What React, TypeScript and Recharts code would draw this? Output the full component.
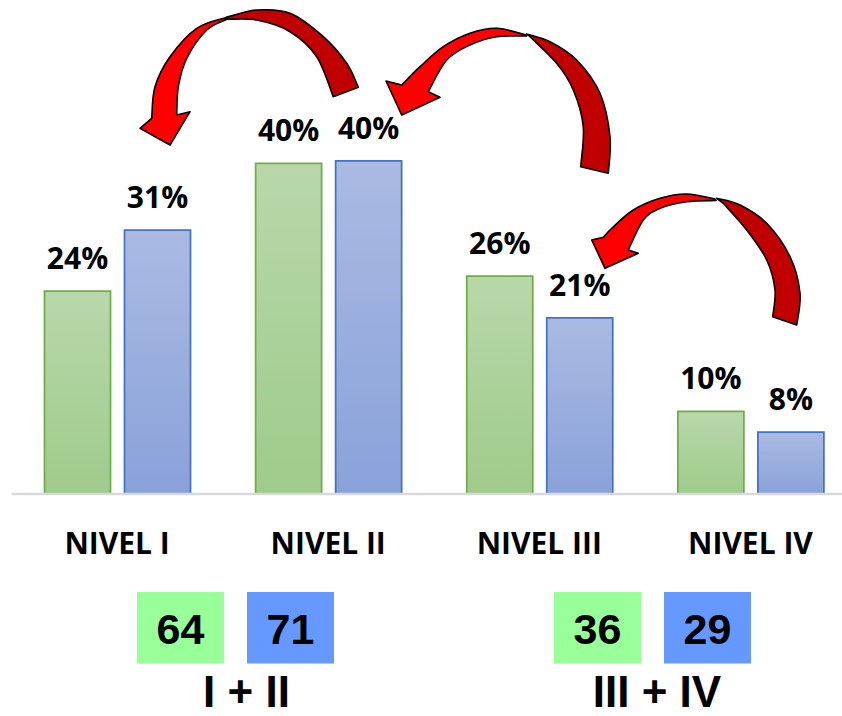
import React from 'react';
import { BarChart, Bar, XAxis, YAxis, LabelList } from 'recharts';

const categories = ['NIVEL I', 'NIVEL II', 'NIVEL III', 'NIVEL IV'];
// bar heights (percent)
const greenValues = [24.3, 39.6, 26.1, 9.9];
const blueValues = [31.6, 39.9, 21.1, 7.4];
// printed labels
const greenLabels = [24, 40, 26, 10];
const blueLabels = [31, 40, 21, 8];
const groupNames = ['I + II', 'III + IV'];

const data = categories.map((name, i) => ({
  name,
  green: greenValues[i],
  blue: blueValues[i],
  greenLabel: greenLabels[i],
  blueLabel: blueLabels[i],
}));

const calibri = '"Open Sans", Lato, sans-serif';
const arial = '"Liberation Sans", Arial, sans-serif';

type Pt = [number, number];

// catmull-rom -> cubic segments, assumes current point is pts[0]
function curve(pts: Pt[]) {
  let d = '';
  for (let i = 0; i < pts.length - 1; i++) {
    const p0 = pts[i - 1] || pts[i];
    const p1 = pts[i];
    const p2 = pts[i + 1];
    const p3 = pts[i + 2] || p2;
    const c1 = [p1[0] + (p2[0] - p0[0]) / 6, p1[1] + (p2[1] - p0[1]) / 6];
    const c2 = [p2[0] - (p3[0] - p1[0]) / 6, p2[1] - (p3[1] - p1[1]) / 6];
    d += `C${c1[0]} ${c1[1]} ${c2[0]} ${c2[1]} ${p2[0]} ${p2[1]}`;
  }
  return d;
}

function brightPath(outer: Pt[], head: Pt[], inner: Pt[]) {
  const s = outer[0];
  let d = `M${s[0]} ${s[1]}` + curve(outer);
  head.forEach((p) => (d += `L${p[0]} ${p[1]}`));
  const last = head[head.length - 1];
  d += curve([last, ...inner]);
  return d + 'Z';
}

function darkPath(outer: Pt[], inner: Pt[]) {
  const s = outer[0];
  let d = `M${s[0]} ${s[1]}` + curve(outer);
  const t = inner[0];
  d += `L${t[0]} ${t[1]}` + curve(inner);
  return d + 'Z';
}

const arrows = [
  {
    bOuter: [[226.7, 17.3], [196.7, 28.3], [170, 56.7], [155, 86.7], [151.7, 118.3]] as Pt[],
    bHead: [[140, 128.3], [170, 145], [190, 111.7], [176.7, 115]] as Pt[],
    bInner: [[178.3, 86.7], [186.7, 58.3], [206.7, 30], [226.7, 19.3]] as Pt[],
    dOuter: [[226.7, 17.3], [256.7, 10], [290, 13.3], [323.3, 36.7], [346.7, 63.3], [358.3, 87.3]] as Pt[],
    dInner: [[333.3, 96.7], [316.7, 56.7], [290, 31.7], [256.7, 20], [226.7, 19.3]] as Pt[],
  },
  {
    bOuter: [[526.7, 35], [496.7, 28.3], [470, 33.3], [443.3, 46.7], [420, 66.7], [401.7, 85]] as Pt[],
    bHead: [[386, 81], [401.7, 115], [440, 97.3], [428.3, 91.7]] as Pt[],
    bInner: [[446.7, 60], [470, 45], [496.7, 36.7], [526.7, 36]] as Pt[],
    dOuter: [[526.7, 34], [550, 41.7], [576.7, 60], [600, 93.3], [610, 136.7], [608.3, 173.3]] as Pt[],
    dInner: [[580.7, 166.7], [583.3, 126.7], [573.3, 90], [556.7, 63.3], [530, 36.7]] as Pt[],
  },
  {
    bOuter: [[715, 199], [686.7, 194], [660, 198.3], [633.3, 210], [612, 228], [603.3, 237.3]] as Pt[],
    bHead: [[591.7, 240], [605, 268.3], [638.3, 253.3], [628.3, 250]] as Pt[],
    bInner: [[643.3, 220], [660, 208.3], [686.7, 201.7], [716, 200.5]] as Pt[],
    dOuter: [[716.7, 198.3], [740, 205], [766.7, 223.3], [790, 256.7], [800, 293.3], [796.7, 325]] as Pt[],
    dInner: [[772.7, 316.7], [775, 290], [766.7, 260], [746.7, 230], [723.3, 203.3]] as Pt[],
  },
];

const boxes = [
  { x: 137, w: 87, color: '#99FF99', value: greenLabels[0] + greenLabels[1] },
  { x: 247, w: 87, color: '#6699FF', value: blueLabels[0] + blueLabels[1] },
  { x: 554, w: 87, color: '#99FF99', value: greenLabels[2] + greenLabels[3] },
  { x: 664, w: 87, color: '#6699FF', value: blueLabels[2] + blueLabels[3] },
];

const pctLabel = (props: any) => {
  const { x, y, width, value } = props;
  return (
    <text
      x={x + width / 2}
      y={y - 22}
      textAnchor="middle"
      fontFamily={calibri}
      fontWeight={700}
      fontSize={30}
      fill="#000"
    >
      {value}%
    </text>
  );
};

const CategoryTick = ({ x, y, payload }: any) => (
  <text x={x} y={y + 60} textAnchor="middle" fontFamily={calibri} fontWeight={700} fontSize={30} fill="#000">
    {payload.value}
  </text>
);

export default function App() {
  return (
    <div style={{ position: 'absolute', left: 0, top: 0, width: 842, height: 716, overflow: 'hidden', background: '#fff' }}>
      <BarChart
        width={856}
        height={716}
        data={data}
        margin={{ top: 76.5, right: 0, bottom: 0, left: 11.5 }}
        barSize={66}
        barGap={14}
      >
        <defs>
          <linearGradient id="gGreen" x1="0" y1="0" x2="0" y2="1">
            <stop offset="0%" stopColor="#B8D8AA" />
            <stop offset="100%" stopColor="#9FCB8B" />
          </linearGradient>
          <linearGradient id="gBlue" x1="0" y1="0" x2="0" y2="1">
            <stop offset="0%" stopColor="#AABAE2" />
            <stop offset="100%" stopColor="#8AA2DA" />
          </linearGradient>
        </defs>
        <XAxis
          dataKey="name"
          height={222}
          interval={0}
          tickLine={false}
          tickSize={0}
          tickMargin={0}
          axisLine={{ stroke: '#D9D9D9', strokeWidth: 2.5 }}
          tick={<CategoryTick />}
        />
        <YAxis hide domain={[0, 50]} />
        <Bar dataKey="green" fill="url(#gGreen)" stroke="#70AD47" strokeWidth={1.75} isAnimationActive={false}>
          <LabelList dataKey="greenLabel" content={pctLabel} />
        </Bar>
        <Bar dataKey="blue" fill="url(#gBlue)" stroke="#4472C4" strokeWidth={1.75} isAnimationActive={false}>
          <LabelList dataKey="blueLabel" content={pctLabel} />
        </Bar>
      </BarChart>
      <svg width={842} height={716} style={{ position: 'absolute', left: 0, top: 0, pointerEvents: 'none' }}>
        {arrows.map((a, i) => (
          <g key={i} stroke="#000" strokeWidth={1.6} strokeLinejoin="round">
            <path d={darkPath(a.dOuter, a.dInner)} fill="#C00000" />
            <path d={brightPath(a.bOuter, a.bHead, a.bInner)} fill="#FF0000" />
          </g>
        ))}
        {boxes.map((b, i) => (
          <g key={i}>
            <rect x={b.x} y={592} width={b.w} height={71.5} fill={b.color} />
            <text x={b.x + b.w / 2} y={643.5} textAnchor="middle" fontFamily={arial} fontWeight={700} fontSize={43} fill="#000">
              {b.value}
            </text>
          </g>
        ))}
        <text x={246.5} y={707} textAnchor="middle" fontFamily={arial} fontWeight={700} fontSize={44} fill="#000">
          {groupNames[0]}
        </text>
        <text x={657} y={707} textAnchor="middle" fontFamily={arial} fontWeight={700} fontSize={44} fill="#000">
          {groupNames[1]}
        </text>
      </svg>
    </div>
  );
}
